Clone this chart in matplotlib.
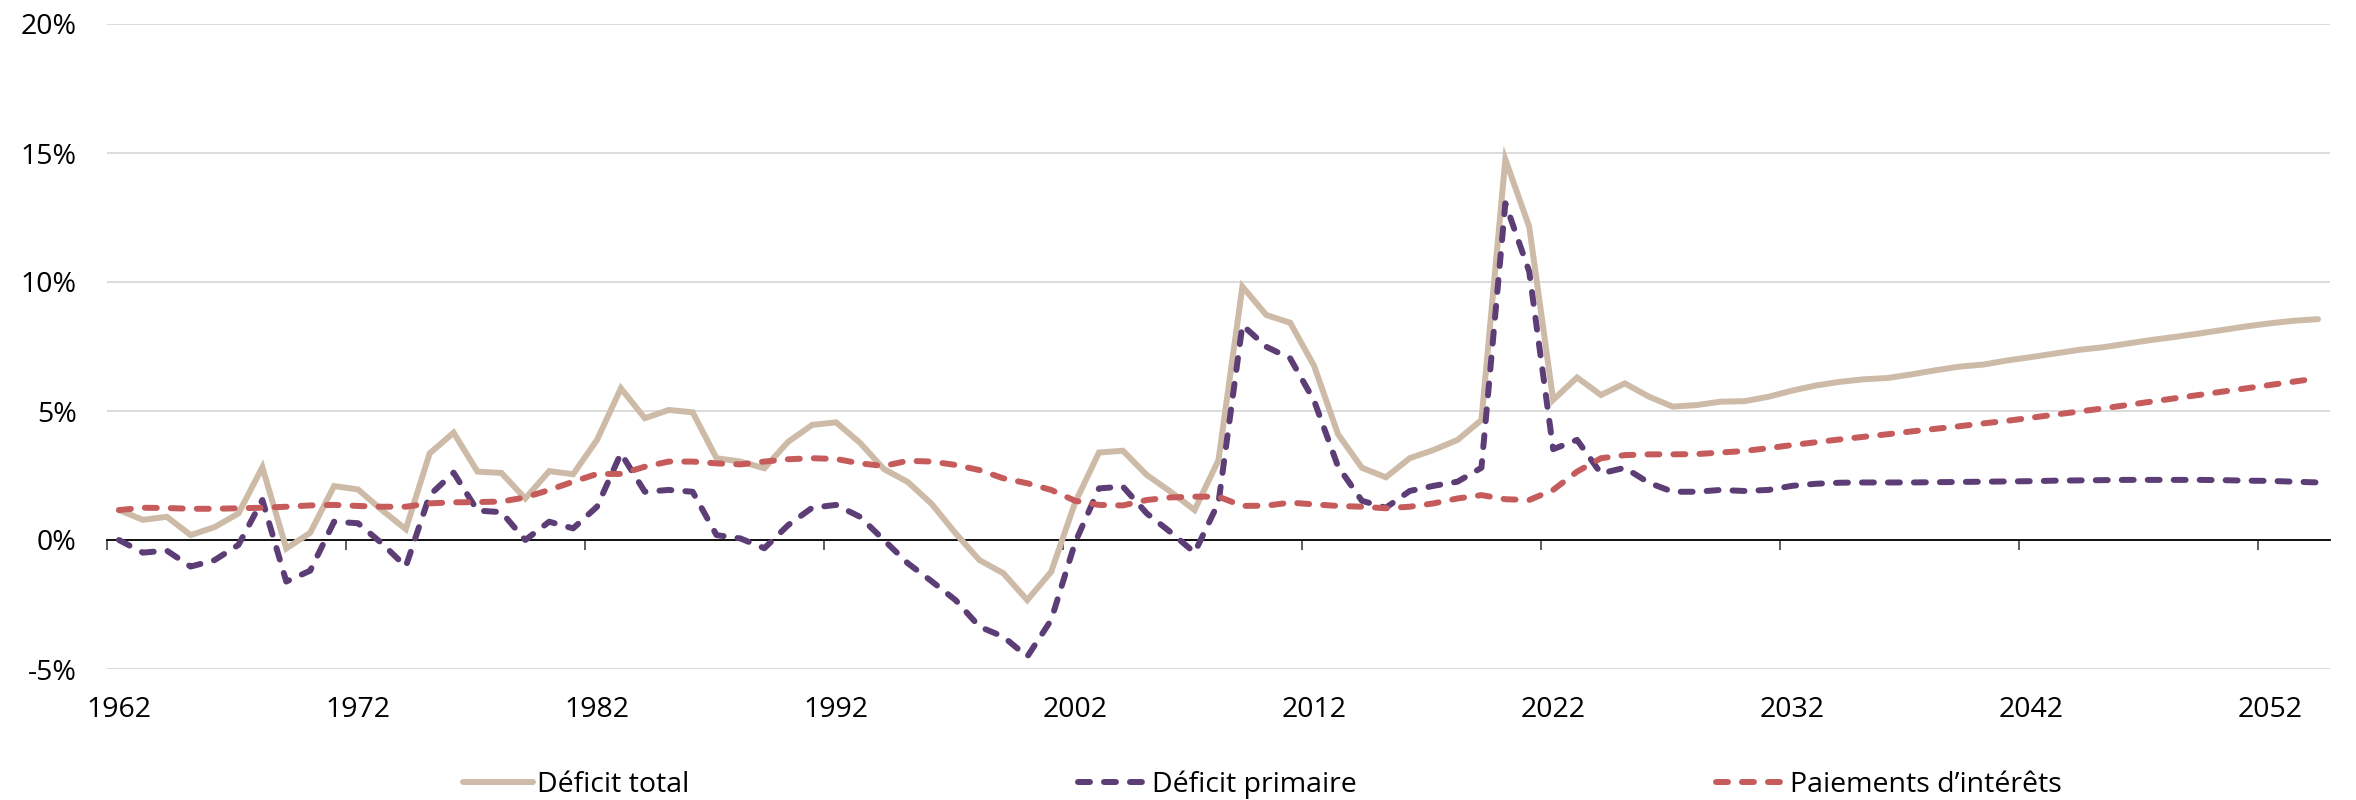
import matplotlib
matplotlib.use("Agg")
import matplotlib.pyplot as plt
import numpy as np

plt.rcParams['font.family'] = ['Open Sans', 'DejaVu Sans']

years = list(range(1962, 2055))

deficit_total = [
    1.16, 0.78, 0.90, 0.19, 0.50, 1.03, 2.82, -0.33, 0.28, 2.09,
    1.96, 1.16, 0.42, 3.36, 4.16, 2.65, 2.60, 1.61, 2.67, 2.55,
    3.88, 5.88, 4.72, 5.04, 4.95, 3.17, 3.04, 2.78, 3.81, 4.46,
    4.56, 3.77, 2.75, 2.25, 1.40, 0.26, -0.78, -1.29, -2.33, -1.23,
    1.45, 3.39, 3.46, 2.52, 1.87, 1.16, 3.10, 9.82, 8.72, 8.42,
    6.75, 4.10, 2.80, 2.43, 3.17, 3.49, 3.88, 4.65, 14.75, 12.14,
    5.43, 6.30, 5.62, 6.07, 5.56, 5.17, 5.23, 5.36, 5.38, 5.55,
    5.79, 5.99, 6.13, 6.23, 6.28, 6.42, 6.58, 6.72, 6.80, 6.96,
    7.09, 7.23, 7.37, 7.47, 7.61, 7.75, 7.87, 8.00, 8.14, 8.28,
    8.40, 8.50, 8.56,
]

deficit_primaire = [
    0.00, -0.49, -0.41, -1.03, -0.78, -0.19, 1.55, -1.61, -1.19, 0.71,
    0.65, -0.13, -1.03, 1.74, 2.61, 1.14, 1.08, 0.00, 0.71, 0.45,
    1.29, 3.36, 1.87, 1.94, 1.87, 0.19, 0.06, -0.32, 0.58, 1.25,
    1.36, 0.90, 0.00, -0.90, -1.60, -2.33, -3.36, -3.75, -4.52, -3.10,
    -0.10, 2.00, 2.07, 1.03, 0.30, -0.49, 1.45, 8.33, 7.49, 7.04,
    5.40, 2.85, 1.52, 1.25, 1.90, 2.10, 2.26, 2.80, 13.05, 10.40,
    3.52, 3.88, 2.58, 2.80, 2.22, 1.87, 1.87, 1.94, 1.90, 1.94,
    2.10, 2.18, 2.22, 2.23, 2.23, 2.23, 2.24, 2.25, 2.26, 2.27,
    2.28, 2.30, 2.31, 2.32, 2.33, 2.33, 2.33, 2.33, 2.32, 2.30,
    2.29, 2.26, 2.23,
]

paiements_interets = [
    1.16, 1.25, 1.24, 1.21, 1.21, 1.23, 1.25, 1.29, 1.34, 1.36,
    1.32, 1.29, 1.29, 1.42, 1.46, 1.47, 1.49, 1.65, 1.94, 2.26,
    2.56, 2.56, 2.84, 3.04, 3.04, 2.97, 2.93, 3.04, 3.13, 3.17,
    3.14, 2.97, 2.87, 3.07, 3.04, 2.91, 2.71, 2.39, 2.20, 1.94,
    1.52, 1.36, 1.34, 1.55, 1.65, 1.68, 1.68, 1.32, 1.33, 1.45,
    1.38, 1.32, 1.29, 1.23, 1.29, 1.42, 1.61, 1.74, 1.58, 1.55,
    1.94, 2.65, 3.17, 3.29, 3.32, 3.32, 3.33, 3.39, 3.45, 3.56,
    3.68, 3.79, 3.90, 4.00, 4.10, 4.21, 4.31, 4.41, 4.52, 4.62,
    4.74, 4.86, 4.98, 5.10, 5.23, 5.36, 5.49, 5.62, 5.75, 5.88,
    6.01, 6.14, 6.27,
]

series_names = ["Déficit total", "Déficit primaire", "Paiements d\u2019intérêts"]
y_ticks = [-5, 0, 5, 10, 15, 20]
y_tick_labels = ["-5%", "0%", "5%", "10%", "15%", "20%"]
x_label_years = list(range(1962, 2053, 10))

c_tan = "#CDBBA8"
c_purple = "#5C3D75"
c_red = "#C65B5B"
lw = 4.3
dash = (2.0, 2.35)
fs = 20.5

fig = plt.figure(figsize=(23.56, 8), dpi=100)
ax = fig.add_axes([107 / 2356, 1 - 669 / 800, (2330 - 107) / 2356, (669 - 24) / 800])

l1, = ax.plot(years, deficit_total, color=c_tan, lw=lw, solid_capstyle='round',
              solid_joinstyle='miter', zorder=3)
l2, = ax.plot(years, deficit_primaire, color=c_purple, lw=lw, dashes=dash,
              dash_capstyle='round', dash_joinstyle='round', zorder=4)
l3, = ax.plot(years, paiements_interets, color=c_red, lw=lw, dashes=dash,
              dash_capstyle='round', dash_joinstyle='round', zorder=5)

ax.set_xlim(years[0] - 0.5, years[-1] + 0.5)
ax.set_ylim(-5, 20)

ax.set_yticks(y_ticks)
ax.set_yticklabels(y_tick_labels, fontsize=fs)
ax.tick_params(axis='y', length=0, pad=22)
ax.yaxis.grid(True, color='#D9D9D9', lw=1.3)
ax.set_axisbelow(True)

for s in ['top', 'right', 'left']:
    ax.spines[s].set_visible(False)
ax.spines['bottom'].set_position(('data', 0))
ax.spines['bottom'].set_color('black')
ax.spines['bottom'].set_linewidth(1.3)
ax.spines['bottom'].set_zorder(2.6)

ax.set_xticks([y - 0.5 for y in x_label_years])
ax.set_xticklabels([])
ax.tick_params(axis='x', direction='out', length=7, width=1.1, color='#333333')

sec = ax.secondary_xaxis(0)
sec.set_xticks(x_label_years)
sec.set_xticklabels([str(y) for y in x_label_years], fontsize=fs)
sec.tick_params(length=0, pad=19.5)
sec.spines['bottom'].set_visible(False)

handles = [l1, l2, l3]
starts = [463, 1078, 1716]
for h, name, x0 in zip(handles, series_names, starts):
    fig.legend([h], [name], loc='center left',
               bbox_to_anchor=(x0 / 2356, 1 - 785 / 800),
               frameon=False, fontsize=fs, borderpad=0, borderaxespad=0,
               handlelength=2.45, handletextpad=0.15)

fig.savefig("out.png", dpi=100)
